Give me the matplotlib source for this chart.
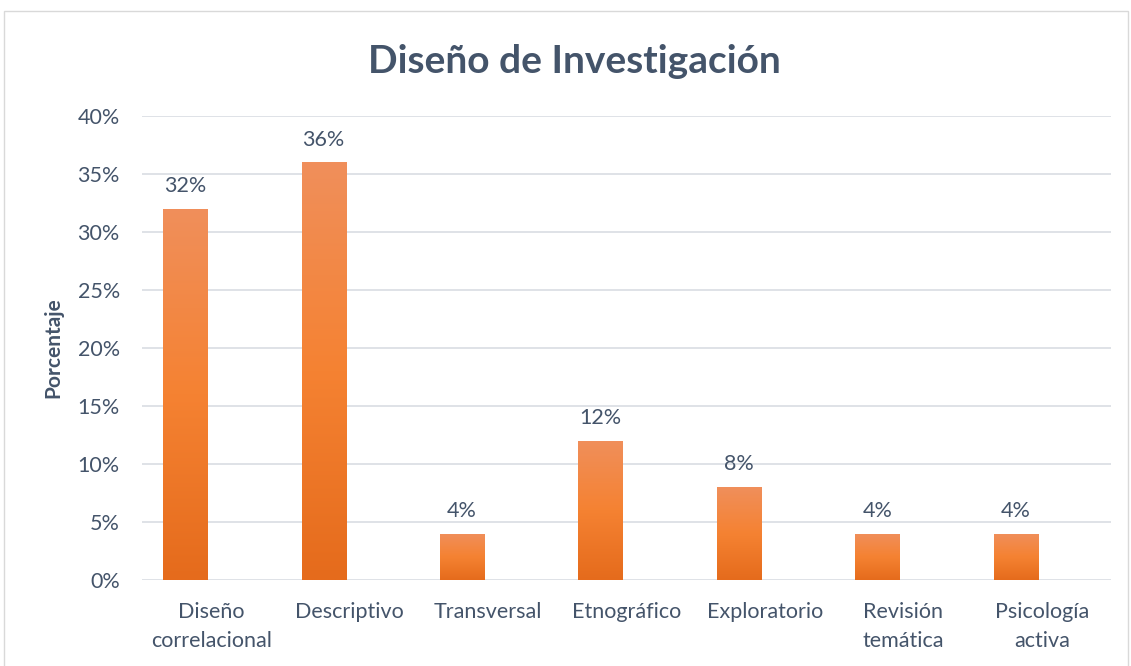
import matplotlib
matplotlib.use("Agg")
import matplotlib.pyplot as plt
from matplotlib.patches import Rectangle
from matplotlib.colors import LinearSegmentedColormap
from matplotlib.ticker import FuncFormatter
import numpy as np

categories = ["Diseño\ncorrelacional", "Descriptivo", "Transversal", "Etnográfico",
              "Exploratorio", "Revisión\ntemática", "Psicología\nactiva"]
values = [32, 36, 4, 12, 8, 4, 4]
yticks = [0, 5, 10, 15, 20, 25, 30, 35, 40]

plt.rcParams['font.family'] = ['Lato', 'DejaVu Sans']
txt = '#44546A'

fig = plt.figure(figsize=(11.31, 6.66), dpi=100)
ax = fig.add_axes([142/1131, 0.129, 969/1131, 0.697])

# outer chart border
fig.patches.append(Rectangle((4/1131, -0.01), 1124/1131, 1 - 11/666 + 0.01,
                             transform=fig.transFigure, fill=False,
                             edgecolor='#D9D9D9', lw=1))

x = np.arange(len(categories))
# bars sit left of the category centre (clustered layout, second slot empty)
bars = ax.bar(x - 0.188, values, width=0.318, color='none', zorder=3)

cmap = LinearSegmentedColormap.from_list('og', ['#E56B1C', '#F58232', '#F08F5B'])
grad = np.linspace(0, 1, 256).reshape(-1, 1)
for b in bars:
    x0, w, h = b.get_x(), b.get_width(), b.get_height()
    im = ax.imshow(grad, cmap=cmap, aspect='auto', origin='lower',
                   extent=(x0, x0 + w, 0, h), zorder=3)
    im.set_clip_path(b)

for b, v in zip(bars, values):
    ax.text(b.get_x() + b.get_width() / 2, v + 1.1, f"{v}%", ha='center', va='bottom',
            fontsize=15.5, color=txt)

ax.set_xlim(-0.5, len(categories) - 0.5)
ax.set_ylim(0, 40)
ax.set_yticks(yticks)
ax.yaxis.set_major_formatter(FuncFormatter(lambda v, p: f"{v:.0f}%"))
ax.set_xticks(x)
ax.set_xticklabels(categories, fontsize=15.5, color=txt, linespacing=1.55)
ax.tick_params(axis='y', labelsize=15.5, labelcolor=txt, length=0, pad=16)
ax.tick_params(axis='x', length=0, pad=16)
ax.grid(axis='y', color='#D9DDE3', lw=1.2, zorder=0)
ax.set_axisbelow(True)
for s in ax.spines.values():
    s.set_visible(False)

ax.set_ylabel("Porcentaje", fontsize=15, fontweight='bold', color=txt, labelpad=10)
fig.text(0.508, 0.908, "Diseño de Investigación", ha='center', va='center',
         fontsize=28, fontweight='bold', color=txt)

fig.savefig("out.png", dpi=100)
